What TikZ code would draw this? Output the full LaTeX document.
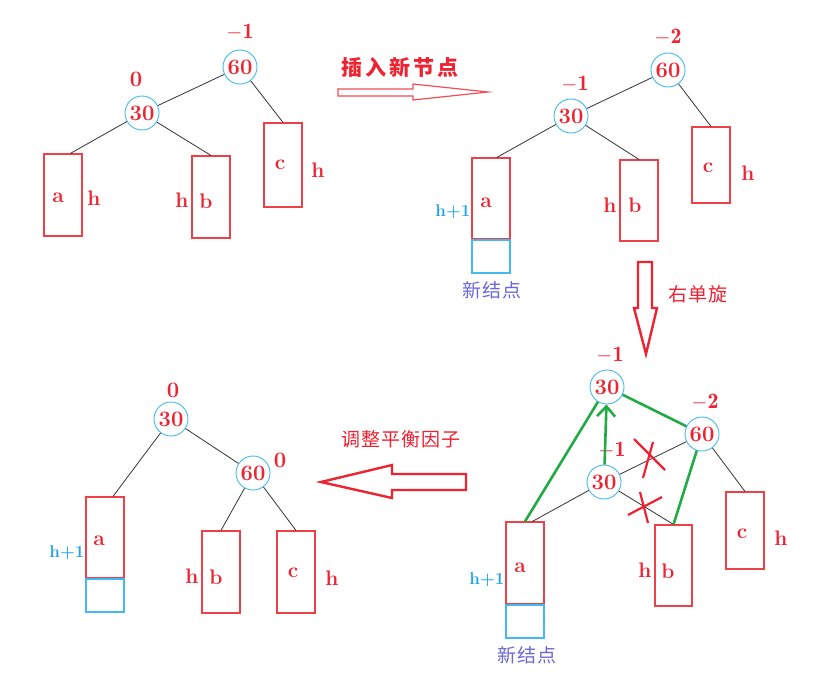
\documentclass[tikz,border=0pt]{standalone}
\usepackage{fontspec}
\newfontfamily\cjk{Noto Sans CJK SC}
\usetikzlibrary{arrows.meta}
\definecolor{tred}{HTML}{EE2230}
\definecolor{bred}{HTML}{EE4048}
\definecolor{cblue}{HTML}{44B8F0}
\definecolor{hblue}{HTML}{22A4E8}
\definecolor{nblue}{HTML}{6A68D8}
\definecolor{tgreen}{HTML}{22AA44}
\begin{document}
\begin{tikzpicture}[x=1pt,y=-1pt,
  circ/.style={circle,draw=cblue,line width=0.9pt,minimum size=34pt,inner sep=0pt,text=tred,font=\fontsize{22}{22}\selectfont\bfseries},
  bal/.style={text=tred,inner sep=0pt,font=\fontsize{22}{22}\selectfont\bfseries},
  lett/.style={text=tred,inner sep=0pt,font=\fontsize{21}{21}\selectfont\bfseries},
  hone/.style={text=hblue,inner sep=0pt,font=\fontsize{17}{17}\selectfont\bfseries},
  tbox/.style={draw=bred,line width=1.1pt,minimum width=38pt,minimum height=82pt,inner sep=0pt},
  nbox/.style={draw=cblue,line width=1.1pt,minimum width=38pt,minimum height=33pt,inner sep=0pt},
  edge/.style={draw=black!80,line width=0.8pt},
  gedge/.style={draw=tgreen,line width=2.6pt},
  xmark/.style={draw=tred,line width=2.2pt},
  harrow/.style={draw=tred,line width=2.4pt,line join=miter},
  cjkt/.style={inner sep=0pt},
  nlabel/.style={text=nblue,inner sep=0pt,font=\cjk\fontsize{19}{19}\selectfont}
]
\useasboundingbox (0,0) rectangle (830,693);
\fill[white] (0,0) rectangle (830,693);

% ---------- top-left tree ----------
\node[circ] (tl60) at (240,67) {60};
\node[circ] (tl30) at (142,113) {30};
\node[bal] (tlb60) at (240,32) {$\mathbf{-1}$};
\node[bal] (tlb30) at (136,79) {0};
\node[tbox] (tla) at (63,195) {};
\node[tbox] (tlb) at (211,197) {};
\node[tbox,minimum height=84pt] (tlc) at (283,165) {};
\node[lett] (tlal) at (58,198) {a};
\node[lett] (tlah) at (94,198) {h};
\node[lett] (tlbh) at (182,200) {h};
\node[lett] (tlbl) at (206,201) {b};
\node[lett] (tlcl) at (280,165) {c};
\node[lett] (tlch) at (318,170) {h};
\draw[edge] (tl60) -- (tl30);
\draw[edge] (tl30) -- (tla.80);
\draw[edge] (tl30) -- (tlb.north);
\draw[edge] (tl60) -- (tlc.north);

% ---------- arrow: insert ----------
\node[cjkt,text=tred,font=\cjk\bfseries\fontsize{21}{21}\selectfont] (tins) at (400,67) {插\kern3pt 入\kern3pt 新\kern3pt 节\kern3pt 点};
\draw[draw=tred!80,line width=1.2pt,line join=miter] (338,89) -- (413,89) -- (413,84) -- (488,92) -- (413,100) -- (413,96) -- (338,96) -- cycle;

% ---------- top-right tree ----------
\node[circ] (tr60) at (668,70) {60};
\node[circ] (tr30) at (571,116) {30};
\node[bal] (trb60) at (668,37) {$\mathbf{-2}$};
\node[bal] (trb30) at (575,84) {$\mathbf{-1}$};
\node[tbox,minimum height=81pt] (tra) at (491,198.5) {};
\node[nbox] (trn) at (491,256.5) {};
\node[tbox,minimum height=81pt] (trb) at (639,200.5) {};
\node[tbox,minimum height=76pt] (trc) at (711,165) {};
\node[lett] (tral) at (486,203) {a};
\node[hone] (trah) at (453,212) {h+1};
\node[nlabel] (trnl) at (492,290) {新\kern1pt 结\kern1pt 点};
\node[lett] (trbh) at (610,205) {h};
\node[lett] (trbl) at (635,205) {b};
\node[lett] (trcl) at (708,168) {c};
\node[lett] (trch) at (748,173) {h};
\draw[edge] (tr60) -- (tr30);
\draw[edge] (tr30) -- (tra.82);
\draw[edge] (tr30) -- (trb.north);
\draw[edge] (tr60) -- (trc.north);

% ---------- arrow: rotate ----------
\draw[harrow] (638,262) -- (652,262) -- (652,308) -- (657,308) -- (646,354) -- (634,308) -- (638,308) -- cycle;
\node[cjkt,text=tred,font=\cjk\fontsize{19}{19}\selectfont] (trot) at (698,294) {右\kern1pt 单\kern1pt 旋};

% ---------- bottom-right tree ----------
\node[circ] (brt30) at (607,387) {30};
\node[circ] (br60) at (702,434) {60};
\node[circ] (brl30) at (604,482) {30};
\node[bal] (brbt) at (610,355) {$\mathbf{-1}$};
\node[bal] (brb60) at (705,402) {$\mathbf{-2}$};
\node[bal] (brbl) at (612,450) {$\mathbf{-1}$};
\node[tbox] (bra) at (525,563) {};
\node[nbox] (brn) at (525,621.5) {};
\node[tbox,minimum height=81pt,minimum width=37pt] (brb) at (673.5,565.5) {};
\node[tbox,minimum height=77pt] (brc) at (745,530.5) {};
\node[lett] (bral) at (520,568) {a};
\node[hone] (brah) at (487,580) {h+1};
\node[nlabel] (brnl) at (527,655) {新\kern1pt 结\kern1pt 点};
\node[lett] (brbh) at (645,570) {h};
\node[lett] (brbl2) at (668,571) {b};
\node[lett] (brcl) at (742,534) {c};
\node[lett] (brch) at (781,538) {h};
\draw[edge] (brl30) -- (br60);
\draw[edge] (brl30) -- (bra.80);
\draw[edge] (brl30) -- (brb.north);
\draw[edge] (br60) -- (brc.north);
\draw[gedge] (brt30) -- (bra.north);
\draw[gedge] (brt30) -- (br60);
\draw[gedge] (br60) -- (brb.north);
\draw[gedge,-{Straight Barb[length=10pt,width=18pt,line width=2.6pt]}] (brl30) -- (brt30);
\draw[xmark] (634,439) -- (665,470);
\draw[xmark] (653,442) -- (643,478);
\draw[xmark] (640,492) -- (648,523);
\draw[xmark] (628,515) -- (662,497);

% ---------- arrow: adjust ----------
\node[cjkt,text=tred,font=\cjk\fontsize{19}{19}\selectfont] (tadj) at (401,439) {调\kern1pt 整\kern1pt 平\kern1pt 衡\kern1pt 因\kern1pt 子};
\draw[harrow] (466,474) -- (392,474) -- (392,465) -- (321,482) -- (392,498) -- (392,490) -- (466,490) -- cycle;

% ---------- bottom-left tree ----------
\node[circ] (bl30) at (171,419) {30};
\node[circ] (bl60) at (253,473) {60};
\node[bal] (blb30) at (173,390) {0};
\node[bal] (blb60) at (280,460) {0};
\node[tbox,minimum height=81pt] (bla) at (105,537.5) {};
\node[nbox] (bln) at (105,595.5) {};
\node[tbox] (blb) at (221,572) {};
\node[tbox] (blc) at (296,572) {};
\node[lett] (blal) at (99,541) {a};
\node[hone] (blah) at (67,553) {h+1};
\node[lett] (blbh) at (192,576) {h};
\node[lett] (blbl) at (216,577) {b};
\node[lett] (blcl) at (293,573) {c};
\node[lett] (blch) at (332,578) {h};
\draw[edge] (bl30) -- (bla.79);
\draw[edge] (bl30) -- (bl60);
\draw[edge] (bl60) -- (blb.north);
\draw[edge] (bl60) -- (blc.north);
\end{tikzpicture}
\end{document}
